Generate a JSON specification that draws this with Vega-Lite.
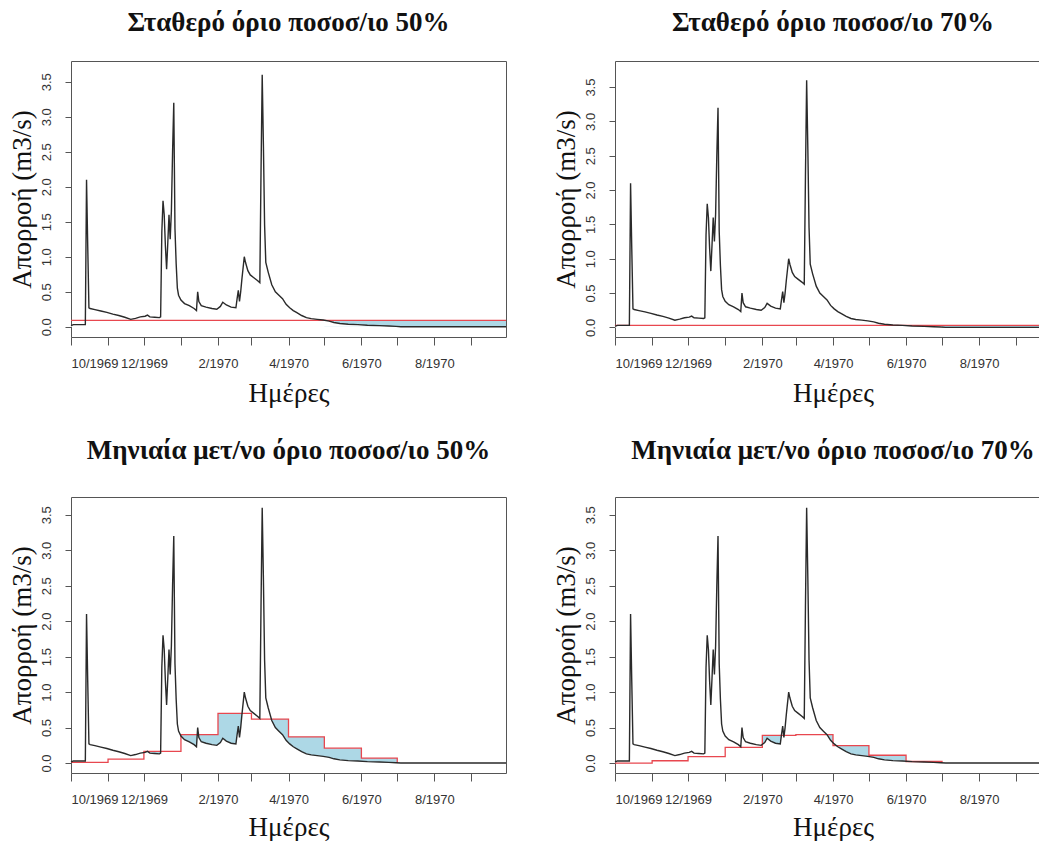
{
  "$schema": "https://vega.github.io/schema/vega-lite/v6.json",
  "background": "white",
  "padding": {"left": 7, "top": 8, "right": 0, "bottom": 0},
  "config": {
    "view": {"stroke": "#555", "strokeWidth": 1},
    "axis": {"grid": false, "domain": false, "tickColor": "#555", "labelColor": "#333", "labelFont": "Liberation Sans", "labelFontSize": 13, "titleFont": "Liberation Serif", "titleFontSize": 27, "titleFontWeight": "normal", "titleColor": "#111"},
    "title": {"font": "Liberation Serif", "fontSize": 27, "fontWeight": "bold", "color": "#111", "anchor": "middle", "baseline": "alphabetic"}
  },
  "datasets": {
    "flow": [
      {"date": "1969-10-01", "v": 0.015},
      {"date": "1969-10-03", "v": 0.03},
      {"date": "1969-10-13", "v": 0.03},
      {"date": "1969-10-14", "v": 2.1},
      {"date": "1969-10-15", "v": 1.15},
      {"date": "1969-10-16", "v": 0.27},
      {"date": "1969-10-17", "v": 0.26},
      {"date": "1969-10-21", "v": 0.245},
      {"date": "1969-10-26", "v": 0.225},
      {"date": "1969-10-31", "v": 0.205},
      {"date": "1969-11-05", "v": 0.18},
      {"date": "1969-11-10", "v": 0.16},
      {"date": "1969-11-15", "v": 0.135},
      {"date": "1969-11-20", "v": 0.105},
      {"date": "1969-11-24", "v": 0.12},
      {"date": "1969-11-28", "v": 0.14},
      {"date": "1969-12-02", "v": 0.15},
      {"date": "1969-12-04", "v": 0.165},
      {"date": "1969-12-06", "v": 0.14},
      {"date": "1969-12-10", "v": 0.135},
      {"date": "1969-12-14", "v": 0.13},
      {"date": "1969-12-15", "v": 0.14},
      {"date": "1969-12-16", "v": 1.35},
      {"date": "1969-12-17", "v": 1.8},
      {"date": "1969-12-18", "v": 1.6},
      {"date": "1969-12-19", "v": 1.15},
      {"date": "1969-12-20", "v": 0.82},
      {"date": "1969-12-21", "v": 1.2},
      {"date": "1969-12-22", "v": 1.6},
      {"date": "1969-12-23", "v": 1.25},
      {"date": "1969-12-24", "v": 1.65},
      {"date": "1969-12-25", "v": 2.5},
      {"date": "1969-12-26", "v": 3.2},
      {"date": "1969-12-27", "v": 1.4},
      {"date": "1969-12-28", "v": 0.9},
      {"date": "1969-12-29", "v": 0.55},
      {"date": "1969-12-30", "v": 0.45},
      {"date": "1970-01-01", "v": 0.38},
      {"date": "1970-01-04", "v": 0.33},
      {"date": "1970-01-08", "v": 0.3},
      {"date": "1970-01-12", "v": 0.26},
      {"date": "1970-01-14", "v": 0.23},
      {"date": "1970-01-15", "v": 0.5},
      {"date": "1970-01-16", "v": 0.36},
      {"date": "1970-01-18", "v": 0.3},
      {"date": "1970-01-22", "v": 0.28},
      {"date": "1970-01-27", "v": 0.26},
      {"date": "1970-01-31", "v": 0.25},
      {"date": "1970-02-03", "v": 0.29},
      {"date": "1970-02-05", "v": 0.35},
      {"date": "1970-02-08", "v": 0.31},
      {"date": "1970-02-12", "v": 0.28},
      {"date": "1970-02-16", "v": 0.27},
      {"date": "1970-02-17", "v": 0.4},
      {"date": "1970-02-18", "v": 0.52},
      {"date": "1970-02-19", "v": 0.36},
      {"date": "1970-02-20", "v": 0.5},
      {"date": "1970-02-21", "v": 0.68},
      {"date": "1970-02-23", "v": 1.0},
      {"date": "1970-02-24", "v": 0.92},
      {"date": "1970-02-26", "v": 0.8},
      {"date": "1970-02-28", "v": 0.74},
      {"date": "1970-03-03", "v": 0.7},
      {"date": "1970-03-06", "v": 0.66},
      {"date": "1970-03-08", "v": 0.63},
      {"date": "1970-03-09", "v": 2.2},
      {"date": "1970-03-10", "v": 3.6},
      {"date": "1970-03-11", "v": 2.6},
      {"date": "1970-03-12", "v": 1.45},
      {"date": "1970-03-13", "v": 0.92},
      {"date": "1970-03-15", "v": 0.78},
      {"date": "1970-03-18", "v": 0.6},
      {"date": "1970-03-21", "v": 0.5},
      {"date": "1970-03-24", "v": 0.45},
      {"date": "1970-03-27", "v": 0.4},
      {"date": "1970-03-30", "v": 0.32},
      {"date": "1970-04-02", "v": 0.27},
      {"date": "1970-04-05", "v": 0.23},
      {"date": "1970-04-08", "v": 0.2},
      {"date": "1970-04-12", "v": 0.16},
      {"date": "1970-04-16", "v": 0.13},
      {"date": "1970-04-20", "v": 0.115},
      {"date": "1970-04-25", "v": 0.105},
      {"date": "1970-04-30", "v": 0.095},
      {"date": "1970-05-05", "v": 0.08},
      {"date": "1970-05-09", "v": 0.06},
      {"date": "1970-05-14", "v": 0.045},
      {"date": "1970-05-21", "v": 0.035},
      {"date": "1970-05-29", "v": 0.03},
      {"date": "1970-06-06", "v": 0.02},
      {"date": "1970-06-16", "v": 0.015},
      {"date": "1970-06-24", "v": 0.01},
      {"date": "1970-06-30", "v": 0.005},
      {"date": "1970-07-04", "v": 0.0},
      {"date": "1970-09-30", "v": 0.0}
    ],
    "thrTL": [
      {"date": "1969-10-01", "v": 0.09},
      {"date": "1970-09-30", "v": 0.09}
    ],
    "fillTL": [
      {"date": "1970-05-01", "v": 0.09},
      {"date": "1970-09-30", "v": 0.09}
    ],
    "thrTR": [
      {"date": "1969-10-01", "v": 0.03},
      {"date": "1970-09-30", "v": 0.03}
    ],
    "fillTR": [
      {"date": "1970-07-01", "v": 0.03},
      {"date": "1970-09-30", "v": 0.03}
    ],
    "thrBL": [
      {"date": "1969-10-01", "v": 0.01},
      {"date": "1969-11-01", "v": 0.055},
      {"date": "1969-12-01", "v": 0.165},
      {"date": "1970-01-01", "v": 0.40},
      {"date": "1970-02-01", "v": 0.70},
      {"date": "1970-03-01", "v": 0.62},
      {"date": "1970-04-01", "v": 0.37},
      {"date": "1970-05-01", "v": 0.21},
      {"date": "1970-06-01", "v": 0.07},
      {"date": "1970-07-01", "v": 0.0}
    ],
    "thrBR": [
      {"date": "1969-10-01", "v": 0.0},
      {"date": "1969-11-01", "v": 0.033},
      {"date": "1969-12-01", "v": 0.09},
      {"date": "1970-01-01", "v": 0.22},
      {"date": "1970-02-01", "v": 0.39},
      {"date": "1970-03-01", "v": 0.40},
      {"date": "1970-04-01", "v": 0.245},
      {"date": "1970-05-01", "v": 0.11},
      {"date": "1970-06-01", "v": 0.022},
      {"date": "1970-07-01", "v": 0.0}
    ]
  },
  "spacing": 29,
  "vconcat": [
    {
      "spacing": 41,
      "hconcat": [
        {
          "title": {"text": "Σταθερό όριο ποσοσ/ιο 50%", "offset": 24},
          "width": 435,
          "height": 276,
          "encoding": {
            "x": {"field": "date", "type": "temporal",
              "scale": {"type": "utc", "domain": [{"year": 1969, "month": 10, "date": 1, "utc": true}, {"year": 1970, "month": 9, "date": 30, "utc": true}]},
              "axis": {"title": "Ημέρες", "tickSize": 8, "labelPadding": 12, "titlePadding": 10, "labelOverlap": false,
                "values": [{"year": 1969, "month": 10, "date": 1, "utc": true}, {"year": 1969, "month": 11, "date": 1, "utc": true}, {"year": 1969, "month": 12, "date": 1, "utc": true}, {"year": 1970, "month": 1, "date": 1, "utc": true}, {"year": 1970, "month": 2, "date": 1, "utc": true}, {"year": 1970, "month": 3, "date": 1, "utc": true}, {"year": 1970, "month": 4, "date": 1, "utc": true}, {"year": 1970, "month": 5, "date": 1, "utc": true}, {"year": 1970, "month": 6, "date": 1, "utc": true}, {"year": 1970, "month": 7, "date": 1, "utc": true}, {"year": 1970, "month": 8, "date": 1, "utc": true}, {"year": 1970, "month": 9, "date": 1, "utc": true}],
                "labelExpr": "utcmonth(datum.value) % 2 == 1 ? utcFormat(datum.value, '%-m/%Y') : ''"}},
            "y": {"field": "v", "type": "quantitative",
              "scale": {"domain": [-0.147, 3.796], "nice": false, "zero": false},
              "axis": {"title": "Απορροή (m3/s)", "values": [0, 0.5, 1, 1.5, 2, 2.5, 3, 3.5], "format": ".1f", "labelAngle": -90, "labelAlign": "center", "labelBaseline": "bottom", "tickSize": 6, "labelPadding": 12, "titlePadding": 4}}
          },
          "layer": [
            {"data": {"name": "fillTL"}, "mark": {"type": "area", "interpolate": "step-after", "color": "#add8e6"}, "encoding": {"y2": {"datum": 0}}},
            {"data": {"name": "flow"}, "mark": {"type": "area", "color": "white"}, "encoding": {"y2": {"datum": 0}}},
            {"data": {"name": "thrTL"}, "mark": {"type": "line", "interpolate": "step-after", "color": "#e8474f", "strokeWidth": 1.3}, "encoding": {}},
            {"data": {"name": "flow"}, "mark": {"type": "line", "color": "#2a2a2a", "strokeWidth": 1.4}, "encoding": {}}
          ]
        },
        {
          "title": {"text": "Σταθερό όριο ποσοσ/ιο 70%", "offset": 24},
          "width": 436,
          "height": 276,
          "encoding": {
            "x": {"field": "date", "type": "temporal",
              "scale": {"type": "utc", "domain": [{"year": 1969, "month": 10, "date": 1, "utc": true}, {"year": 1970, "month": 9, "date": 30, "utc": true}]},
              "axis": {"title": "Ημέρες", "tickSize": 8, "labelPadding": 12, "titlePadding": 10, "labelOverlap": false,
                "values": [{"year": 1969, "month": 10, "date": 1, "utc": true}, {"year": 1969, "month": 11, "date": 1, "utc": true}, {"year": 1969, "month": 12, "date": 1, "utc": true}, {"year": 1970, "month": 1, "date": 1, "utc": true}, {"year": 1970, "month": 2, "date": 1, "utc": true}, {"year": 1970, "month": 3, "date": 1, "utc": true}, {"year": 1970, "month": 4, "date": 1, "utc": true}, {"year": 1970, "month": 5, "date": 1, "utc": true}, {"year": 1970, "month": 6, "date": 1, "utc": true}, {"year": 1970, "month": 7, "date": 1, "utc": true}, {"year": 1970, "month": 8, "date": 1, "utc": true}, {"year": 1970, "month": 9, "date": 1, "utc": true}],
                "labelExpr": "utcmonth(datum.value) % 2 == 1 ? utcFormat(datum.value, '%-m/%Y') : ''"}},
            "y": {"field": "v", "type": "quantitative",
              "scale": {"domain": [-0.14, 3.88], "nice": false, "zero": false},
              "axis": {"title": "Απορροή (m3/s)", "values": [0, 0.5, 1, 1.5, 2, 2.5, 3, 3.5], "format": ".1f", "labelAngle": -90, "labelAlign": "center", "labelBaseline": "bottom", "tickSize": 6, "labelPadding": 12, "titlePadding": 4}}
          },
          "layer": [
            {"data": {"name": "fillTR"}, "mark": {"type": "area", "interpolate": "step-after", "color": "#add8e6"}, "encoding": {"y2": {"datum": 0}}},
            {"data": {"name": "flow"}, "mark": {"type": "area", "color": "white"}, "encoding": {"y2": {"datum": 0}}},
            {"data": {"name": "thrTR"}, "mark": {"type": "line", "interpolate": "step-after", "color": "#e8474f", "strokeWidth": 1.3}, "encoding": {}},
            {"data": {"name": "flow"}, "mark": {"type": "line", "color": "#2a2a2a", "strokeWidth": 1.4}, "encoding": {}}
          ]
        }
      ]
    },
    {
      "spacing": 41,
      "hconcat": [
        {
          "title": {"text": "Μηνιαία μετ/νο όριο ποσοσ/ιο 50%", "offset": 32},
          "width": 435,
          "height": 276,
          "encoding": {
            "x": {"field": "date", "type": "temporal",
              "scale": {"type": "utc", "domain": [{"year": 1969, "month": 10, "date": 1, "utc": true}, {"year": 1970, "month": 9, "date": 30, "utc": true}]},
              "axis": {"title": "Ημέρες", "tickSize": 8, "labelPadding": 12, "titlePadding": 8, "labelOverlap": false,
                "values": [{"year": 1969, "month": 10, "date": 1, "utc": true}, {"year": 1969, "month": 11, "date": 1, "utc": true}, {"year": 1969, "month": 12, "date": 1, "utc": true}, {"year": 1970, "month": 1, "date": 1, "utc": true}, {"year": 1970, "month": 2, "date": 1, "utc": true}, {"year": 1970, "month": 3, "date": 1, "utc": true}, {"year": 1970, "month": 4, "date": 1, "utc": true}, {"year": 1970, "month": 5, "date": 1, "utc": true}, {"year": 1970, "month": 6, "date": 1, "utc": true}, {"year": 1970, "month": 7, "date": 1, "utc": true}, {"year": 1970, "month": 8, "date": 1, "utc": true}, {"year": 1970, "month": 9, "date": 1, "utc": true}],
                "labelExpr": "utcmonth(datum.value) % 2 == 1 ? utcFormat(datum.value, '%-m/%Y') : ''"}},
            "y": {"field": "v", "type": "quantitative",
              "scale": {"domain": [-0.14, 3.75], "nice": false, "zero": false},
              "axis": {"title": "Απορροή (m3/s)", "values": [0, 0.5, 1, 1.5, 2, 2.5, 3, 3.5], "format": ".1f", "labelAngle": -90, "labelAlign": "center", "labelBaseline": "bottom", "tickSize": 6, "labelPadding": 12, "titlePadding": 4}}
          },
          "layer": [
            {"data": {"name": "thrBL"}, "mark": {"type": "area", "interpolate": "step-after", "color": "#add8e6"}, "encoding": {"y2": {"datum": 0}}},
            {"data": {"name": "flow"}, "mark": {"type": "area", "color": "white"}, "encoding": {"y2": {"datum": 0}}},
            {"data": {"name": "thrBL"}, "mark": {"type": "line", "interpolate": "step-after", "color": "#e8474f", "strokeWidth": 1.3}, "encoding": {}},
            {"data": {"name": "flow"}, "mark": {"type": "line", "color": "#2a2a2a", "strokeWidth": 1.4}, "encoding": {}}
          ]
        },
        {
          "title": {"text": "Μηνιαία μετ/νο  όριο ποσοσ/ιο 70%", "offset": 32},
          "width": 436,
          "height": 276,
          "encoding": {
            "x": {"field": "date", "type": "temporal",
              "scale": {"type": "utc", "domain": [{"year": 1969, "month": 10, "date": 1, "utc": true}, {"year": 1970, "month": 9, "date": 30, "utc": true}]},
              "axis": {"title": "Ημέρες", "tickSize": 8, "labelPadding": 12, "titlePadding": 8, "labelOverlap": false,
                "values": [{"year": 1969, "month": 10, "date": 1, "utc": true}, {"year": 1969, "month": 11, "date": 1, "utc": true}, {"year": 1969, "month": 12, "date": 1, "utc": true}, {"year": 1970, "month": 1, "date": 1, "utc": true}, {"year": 1970, "month": 2, "date": 1, "utc": true}, {"year": 1970, "month": 3, "date": 1, "utc": true}, {"year": 1970, "month": 4, "date": 1, "utc": true}, {"year": 1970, "month": 5, "date": 1, "utc": true}, {"year": 1970, "month": 6, "date": 1, "utc": true}, {"year": 1970, "month": 7, "date": 1, "utc": true}, {"year": 1970, "month": 8, "date": 1, "utc": true}, {"year": 1970, "month": 9, "date": 1, "utc": true}],
                "labelExpr": "utcmonth(datum.value) % 2 == 1 ? utcFormat(datum.value, '%-m/%Y') : ''"}},
            "y": {"field": "v", "type": "quantitative",
              "scale": {"domain": [-0.14, 3.75], "nice": false, "zero": false},
              "axis": {"title": "Απορροή (m3/s)", "values": [0, 0.5, 1, 1.5, 2, 2.5, 3, 3.5], "format": ".1f", "labelAngle": -90, "labelAlign": "center", "labelBaseline": "bottom", "tickSize": 6, "labelPadding": 12, "titlePadding": 4}}
          },
          "layer": [
            {"data": {"name": "thrBR"}, "mark": {"type": "area", "interpolate": "step-after", "color": "#add8e6"}, "encoding": {"y2": {"datum": 0}}},
            {"data": {"name": "flow"}, "mark": {"type": "area", "color": "white"}, "encoding": {"y2": {"datum": 0}}},
            {"data": {"name": "thrBR"}, "mark": {"type": "line", "interpolate": "step-after", "color": "#e8474f", "strokeWidth": 1.3}, "encoding": {}},
            {"data": {"name": "flow"}, "mark": {"type": "line", "color": "#2a2a2a", "strokeWidth": 1.4}, "encoding": {}}
          ]
        }
      ]
    }
  ]
}
